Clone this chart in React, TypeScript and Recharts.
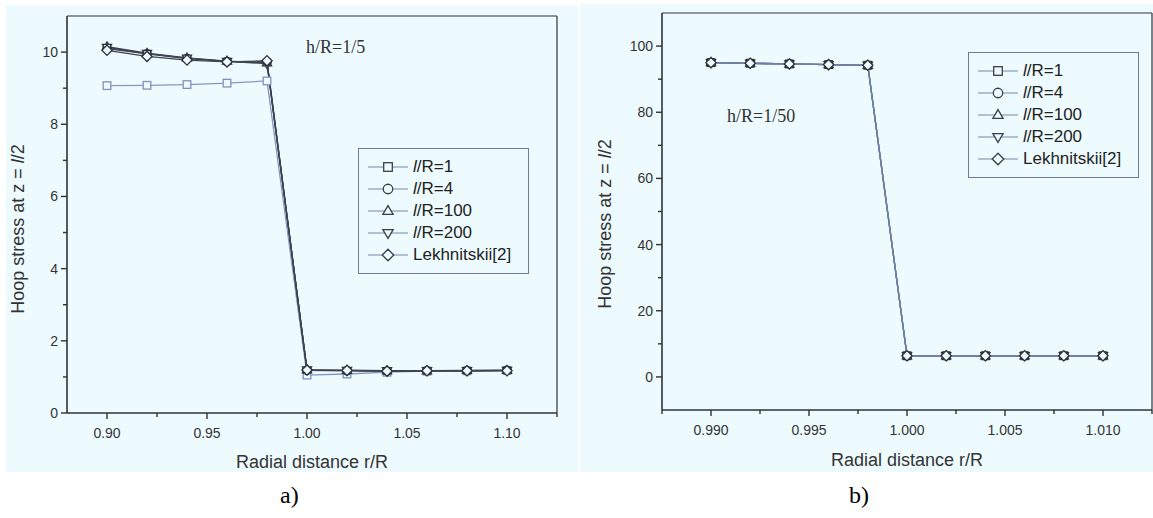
import React from 'react';
import { LineChart, Line, XAxis, YAxis, Legend, ReferenceLine, Label } from 'recharts';

const PANEL_BG = '#eefbfe';
const AXIS_COLOR = '#2f3338';
const TEXT_COLOR = '#333';
const SANS = '"Liberation Sans", Arial, sans-serif';
const SERIF = '"Liberation Serif", "Times New Roman", serif';

// Series definitions shared by both panels
const seriesKeys = ['lr1', 'lr4', 'lr100', 'lr200', 'lek'];
const seriesNames = ['l/R=1', 'l/R=4', 'l/R=100', 'l/R=200', 'Lekhnitskii[2]'];
const seriesShapes = ['square', 'circle', 'up', 'down', 'diamond'];

// Panel a) h/R = 1/5
const radiusA = [0.90, 0.92, 0.94, 0.96, 0.98, 1.00, 1.02, 1.04, 1.06, 1.08, 1.10];
const lr1A = [9.07, 9.08, 9.10, 9.14, 9.20, 1.05, 1.08, 1.13, 1.16, 1.17, 1.18];
const lr4A = [10.10, 9.95, 9.82, 9.74, 9.72, 1.18, 1.17, 1.16, 1.17, 1.17, 1.18];
const lr100A = [10.15, 9.97, 9.84, 9.75, 9.70, 1.20, 1.18, 1.17, 1.17, 1.18, 1.18];
const lr200A = [10.13, 9.96, 9.83, 9.74, 9.68, 1.19, 1.18, 1.17, 1.17, 1.17, 1.18];
const lekA = [10.05, 9.88, 9.78, 9.73, 9.76, 1.19, 1.18, 1.16, 1.17, 1.17, 1.17];
const xTicksA = [0.9, 0.925, 0.95, 0.975, 1.0, 1.025, 1.05, 1.075, 1.1, 1.125];
const yTicksA = [0, 1, 2, 3, 4, 5, 6, 7, 8, 9, 10];

// Panel b) h/R = 1/50
const radiusB = [0.990, 0.992, 0.994, 0.996, 0.998, 1.000, 1.002, 1.004, 1.006, 1.008, 1.010];
const lr1B = [95.0, 94.8, 94.6, 94.4, 94.2, 6.4, 6.4, 6.4, 6.4, 6.4, 6.4];
const lr4B = [95.0, 94.8, 94.6, 94.4, 94.2, 6.4, 6.4, 6.4, 6.4, 6.4, 6.4];
const lr100B = [95.0, 94.8, 94.6, 94.4, 94.2, 6.4, 6.4, 6.4, 6.4, 6.4, 6.4];
const lr200B = [95.0, 94.8, 94.6, 94.4, 94.2, 6.4, 6.4, 6.4, 6.4, 6.4, 6.4];
const lekB = [95.0, 94.8, 94.6, 94.4, 94.2, 6.4, 6.4, 6.4, 6.4, 6.4, 6.4];
const xTicksB = [0.9875, 0.99, 0.9925, 0.995, 0.9975, 1.0, 1.0025, 1.005, 1.0075, 1.01, 1.0125];
const yTicksB = [0, 10, 20, 30, 40, 50, 60, 70, 80, 90, 100];

const rowsA = radiusA.map((r, i) => ({
  r, lr1: lr1A[i], lr4: lr4A[i], lr100: lr100A[i], lr200: lr200A[i], lek: lekA[i],
}));
const rowsB = radiusB.map((r, i) => ({
  r, lr1: lr1B[i], lr4: lr4B[i], lr100: lr100B[i], lr200: lr200B[i], lek: lekB[i],
}));

const isMajor = (v: number, step: number) =>
  Math.abs(v / step - Math.round(v / step)) < 1e-6;

function Marker({ shape, cx, cy, s, stroke, fill, sw }: any) {
  const common = { stroke, fill, strokeWidth: sw };
  switch (shape) {
    case 'square':
      return <rect x={cx - s} y={cy - s} width={2 * s} height={2 * s} {...common} />;
    case 'circle':
      return <circle cx={cx} cy={cy} r={s * 1.1} {...common} />;
    case 'up':
      return (
        <polygon
          points={`${cx},${cy - s * 1.25} ${cx + s * 1.2},${cy + s * 0.8} ${cx - s * 1.2},${cy + s * 0.8}`}
          {...common}
        />
      );
    case 'down':
      return (
        <polygon
          points={`${cx},${cy + s * 1.25} ${cx + s * 1.2},${cy - s * 0.8} ${cx - s * 1.2},${cy - s * 0.8}`}
          {...common}
        />
      );
    default:
      return (
        <polygon
          points={`${cx},${cy - s * 1.35} ${cx + s * 1.35},${cy} ${cx},${cy + s * 1.35} ${cx - s * 1.35},${cy}`}
          {...common}
        />
      );
  }
}

function SeriesName({ name }: { name: string }) {
  if (name.startsWith('l/')) {
    return (
      <span>
        <i>l</i>
        {name.slice(1)}
      </span>
    );
  }
  return <span>{name}</span>;
}

function LegendBox({ payload, lineColor }: any) {
  // Keep the series order of the plot rather than the legend's sorted order
  const present = new Set((payload || []).map((p: any) => p.dataKey));
  const keys = seriesKeys.filter((k) => present.has(k));
  return (
    <div
      style={{
        width: 169,
        border: '1px solid #6d7c9c',
        padding: '7px 0',
        fontFamily: SANS,
        fontSize: 17,
        color: '#222',
      }}
    >
      {keys.map((key) => {
        const idx = seriesKeys.indexOf(key);
        return (
          <div key={key} style={{ display: 'flex', alignItems: 'center', height: 22 }}>
            <svg width={54} height={22} style={{ flex: 'none' }}>
              <line x1={9} x2={49} y1={11} y2={11} stroke={lineColor} strokeWidth={1.2} />
              <Marker
                shape={seriesShapes[idx]}
                cx={29}
                cy={11}
                s={4.3}
                stroke="#3a3f48"
                fill={PANEL_BG}
                sw={1.3}
              />
            </svg>
            <SeriesName name={seriesNames[idx]} />
          </div>
        );
      })}
    </div>
  );
}

function makeXTick(step: number, digits: number) {
  return (props: any) => {
    const { x, y, payload } = props;
    const v = payload.value;
    const major = isMajor(v, step);
    return (
      <g>
        <line x1={x} x2={x} y1={y} y2={y + (major ? 6 : 4)} stroke={AXIS_COLOR} strokeWidth={1.4} />
        {major && (
          <text x={x} y={y + 25} textAnchor="middle" fontFamily={SANS} fontSize={14} fill={TEXT_COLOR}>
            {v.toFixed(digits)}
          </text>
        )}
      </g>
    );
  };
}

function makeYTick(step: number) {
  return (props: any) => {
    const { x, y, payload } = props;
    const v = payload.value;
    const major = isMajor(v, step);
    return (
      <g>
        <line x1={x} x2={x - (major ? 6 : 4)} y1={y} y2={y} stroke={AXIS_COLOR} strokeWidth={1.4} />
        {major && (
          <text x={x - 9} y={y + 5} textAnchor="end" fontFamily={SANS} fontSize={14} fill={TEXT_COLOR}>
            {v}
          </text>
        )}
      </g>
    );
  };
}

type PanelProps = {
  rows: any[];
  width: number;
  height: number;
  top: number;
  right: number;
  yAxisWidth: number;
  xAxisHeight: number;
  xDomain: [number, number];
  xTicks: number[];
  xStep: number;
  xDigits: number;
  yDomain: [number, number];
  yTicks: number[];
  yStep: number;
  legendLeft: number;
  legendTop: number;
  lineColors: string[];
  dotColors: string[];
  legendLineColor: string;
  yTitleX: number;
  yTitleY: number;
  xTitleDy: number;
};

function Panel(p: PanelProps) {
  return (
    <LineChart
      width={p.width}
      height={p.height}
      data={p.rows}
      margin={{ top: p.top, right: p.right, bottom: 0, left: 0 }}
    >
      <XAxis
        dataKey="r"
        type="number"
        domain={p.xDomain}
        ticks={p.xTicks}
        interval={0}
        allowDataOverflow
        height={p.xAxisHeight}
        tickSize={0}
        tickMargin={0}
        tickLine={false}
        axisLine={{ stroke: AXIS_COLOR, strokeWidth: 1.6 }}
        tick={makeXTick(p.xStep, p.xDigits)}
      >
        <Label
          content={(lp: any) => {
            const vb = lp.viewBox;
            return (
              <text
                x={vb.x + vb.width / 2}
                y={vb.y + p.xTitleDy}
                textAnchor="middle"
                fontFamily={SANS}
                fontSize={18}
                fill={TEXT_COLOR}
              >
                Radial distance r/R
              </text>
            );
          }}
        />
      </XAxis>
      <YAxis
        type="number"
        domain={p.yDomain}
        ticks={p.yTicks}
        interval={0}
        allowDataOverflow
        width={p.yAxisWidth}
        tickSize={0}
        tickMargin={0}
        tickLine={false}
        axisLine={{ stroke: AXIS_COLOR, strokeWidth: 1.6 }}
        tick={makeYTick(p.yStep)}
      >
        <Label
          content={() => (
            <text
              x={p.yTitleX}
              y={p.yTitleY}
              transform={`rotate(-90, ${p.yTitleX}, ${p.yTitleY})`}
              textAnchor="middle"
              dominantBaseline="central"
              fontFamily={SANS}
              fontSize={18}
              fill={TEXT_COLOR}
            >
              Hoop stress at z = <tspan fontStyle="italic">l</tspan>/2
            </text>
          )}
        />
      </YAxis>
      <ReferenceLine y={p.yDomain[1]} stroke={AXIS_COLOR} strokeWidth={1.2} />
      <ReferenceLine x={p.xDomain[1]} stroke={AXIS_COLOR} strokeWidth={1.2} />
      {seriesKeys.map((key, i) => (
        <Line
          key={key}
          dataKey={key}
          name={seriesNames[i]}
          type="linear"
          stroke={p.lineColors[i]}
          strokeWidth={1.3}
          isAnimationActive={false}
          dot={(dp: any) => (
            <Marker
              key={`${key}-${dp.index}`}
              shape={seriesShapes[i]}
              cx={dp.cx}
              cy={dp.cy}
              s={3.8}
              stroke={p.dotColors[i]}
              fill={PANEL_BG}
              sw={1.3}
            />
          )}
          activeDot={false}
        />
      ))}
      <Legend
        layout="vertical"
        align="center"
        verticalAlign="middle"
        wrapperStyle={{ left: p.legendLeft, top: p.legendTop, width: 'auto', height: 'auto' }}
        content={(lp: any) => <LegendBox payload={lp.payload} lineColor={p.legendLineColor} />}
      />
    </LineChart>
  );
}

export default function App() {
  return (
    <div
      style={{
        position: 'absolute',
        left: 0,
        top: 0,
        width: 1153,
        height: 518,
        background: '#fff',
        overflow: 'hidden',
      }}
    >
      <div style={{ position: 'absolute', left: 6, top: 5, width: 572, height: 467, background: PANEL_BG }} />
      <div style={{ position: 'absolute', left: 580, top: 4, width: 573, height: 468, background: PANEL_BG }} />

      <div style={{ position: 'absolute', left: 0, top: 0 }}>
        <Panel
          rows={rowsA}
          width={578}
          height={475}
          top={16}
          right={21}
          yAxisWidth={67}
          xAxisHeight={62}
          xDomain={[0.88, 1.125]}
          xTicks={xTicksA}
          xStep={0.05}
          xDigits={2}
          yDomain={[0, 11]}
          yTicks={yTicksA}
          yStep={2}
          legendLeft={358}
          legendTop={148}
          lineColors={['#8597c2', '#3d4350', '#3d4350', '#3d4350', '#3d4350']}
          dotColors={['#7f91bd', '#2e323a', '#2e323a', '#2e323a', '#2e323a']}
          legendLineColor="#7485ab"
          yTitleX={18}
          yTitleY={229}
          xTitleDy={55}
        />
      </div>

      <div style={{ position: 'absolute', left: 580, top: 0 }}>
        <Panel
          rows={rowsB}
          width={573}
          height={475}
          top={13}
          right={1}
          yAxisWidth={82}
          xAxisHeight={65}
          xDomain={[0.9875, 1.0125]}
          xTicks={xTicksB}
          xStep={0.005}
          xDigits={3}
          yDomain={[-10, 110]}
          yTicks={yTicksB}
          yStep={20}
          legendLeft={388}
          legendTop={52}
          lineColors={['#6f7fa3', '#6f7fa3', '#6f7fa3', '#6f7fa3', '#6f7fa3']}
          dotColors={['#2e323a', '#2e323a', '#2e323a', '#2e323a', '#2e323a']}
          legendLineColor="#7485ab"
          yTitleX={25}
          yTitleY={224}
          xTitleDy={56}
        />
      </div>

      <div
        style={{
          position: 'absolute',
          left: 306,
          top: 37,
          fontFamily: SERIF,
          fontSize: 18,
          color: TEXT_COLOR,
          whiteSpace: 'nowrap',
        }}
      >
        h/R=1/5
      </div>
      <div
        style={{
          position: 'absolute',
          left: 727,
          top: 106,
          fontFamily: SERIF,
          fontSize: 18,
          color: TEXT_COLOR,
          whiteSpace: 'nowrap',
        }}
      >
        h/R=1/50
      </div>

      <div style={{ position: 'absolute', left: 280, top: 482, fontFamily: SERIF, fontSize: 24, color: '#000' }}>a)</div>
      <div style={{ position: 'absolute', left: 849, top: 482, fontFamily: SERIF, fontSize: 24, color: '#000' }}>b)</div>
    </div>
  );
}
